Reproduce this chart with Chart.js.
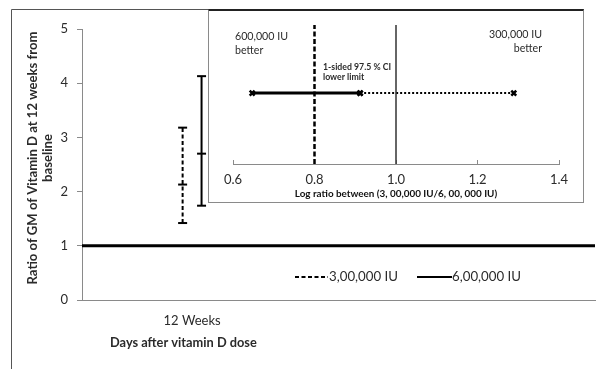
<!DOCTYPE html>
<html>
<head>
<meta charset="utf-8">
<script src="https://cdn.jsdelivr.net/npm/chart.js@4.4.1/dist/chart.umd.min.js"></script>
<style>
  html, body { margin: 0; padding: 0; background: #fff; }
  #wrap { position: relative; width: 602px; height: 369px; }
  #main { position: absolute; left: 0; top: 0; }
  #insetBox { position: absolute; left: 208px; top: 9px; width: 376px; height: 194px;
    box-sizing: border-box; border: 1px solid #8a8a8a; border-top: 2px solid #222; background: #fff; }
  #inset { display: block; }
</style>
</head>
<body>
<div id="wrap">
  <canvas id="main" width="602" height="369"></canvas>
  <div id="insetBox"><canvas id="inset" width="374" height="191"></canvas></div>
</div>
<script>
// main chart data
const categories = ['12 Weeks']
const seriesNames = ['3,00,000 IU', '6,00,000 IU']
const gmRatio = [2.13, 2.70]
const ciLow = [1.42, 1.74]
const ciHigh = [3.18, 4.13]
const yTicks = [0, 1, 2, 3, 4, 5]
const refValue = 1

// inset data
const insetTicks = [0.6, 0.8, 1.0, 1.2, 1.4]
const nonInferiorityLimit = 0.8
const noEffect = 1.0
const logRatioLow = 0.647
const logRatioUpperOneSided = 0.912
const logRatioHigh = 1.289

const FONT = 'Lato, "Open Sans", sans-serif'
const TEXT = '#2b2b2b'

// x positions in the main chart: category 0, series drawn either side of it
const xMin = -0.5, xMax = 1.83, seriesShift = 0.043

// pick a font size so the text comes out at the wanted width
const fitFont = (ctx, text, width, weight) => {
  ctx.font = weight + ' 20px ' + FONT
  const size = 20 * width / ctx.measureText(text).width
  ctx.font = weight + ' ' + size.toFixed(2) + 'px ' + FONT
}

const errorBar = (i, dx, dash) => ({
  label: seriesNames[i],
  data: [
    { x: dx, y: ciLow[i] },
    { x: dx, y: gmRatio[i] },
    { x: dx, y: ciHigh[i] }
  ],
  borderColor: '#000',
  borderWidth: 2,
  borderDash: dash,
  pointStyle: 'line',
  pointRadius: 4.5,
  pointBorderWidth: 2,
  pointBorderColor: '#000',
  showLine: true,
  fill: false
})

const mainDecor = {
  id: 'mainDecor',
  beforeDraw(chart) {
    const ctx = chart.ctx
    ctx.save()
    ctx.strokeStyle = '#555'
    ctx.lineWidth = 1
    ctx.beginPath()
    ctx.moveTo(11.5, 369)
    ctx.lineTo(11.5, 9.5)
    ctx.lineTo(583, 9.5)
    ctx.stroke()
    ctx.restore()
  },
  afterDraw(chart) {
    const ctx = chart.ctx
    ctx.save()
    ctx.fillStyle = TEXT
    // y title
    ctx.translate(40.5, 158)
    ctx.rotate(-Math.PI / 2)
    fitFont(ctx, 'Ratio of GM of Vitamin D at 12 weeks from', 253, 'bold')
    ctx.textAlign = 'center'
    ctx.textBaseline = 'middle'
    ctx.fillText('Ratio of GM of Vitamin D at 12 weeks from', 0, -7.5)
    ctx.fillText('baseline', 0, 7.5)
    ctx.restore()

    ctx.save()
    ctx.fillStyle = TEXT
    ctx.textBaseline = 'middle'
    ctx.textAlign = 'left'
    fitFont(ctx, 'Days after vitamin D dose', 147, 'bold')
    ctx.fillText('Days after vitamin D dose', 110, 343)

    // legend
    ctx.strokeStyle = '#000'
    ctx.lineWidth = 2
    ctx.setLineDash([4, 2.5])
    ctx.beginPath(); ctx.moveTo(295, 277); ctx.lineTo(328, 277); ctx.stroke()
    ctx.setLineDash([])
    ctx.beginPath(); ctx.moveTo(417, 277); ctx.lineTo(452, 277); ctx.stroke()
    fitFont(ctx, seriesNames[0], 69, 'normal')
    ctx.fillText(seriesNames[0], 329, 277)
    ctx.fillText(seriesNames[1], 452, 277)
    ctx.restore()
  }
}

new Chart('main', {
  type: 'scatter',
  data: {
    datasets: [
      {
        label: 'ref',
        data: [{ x: xMin, y: refValue }, { x: xMax, y: refValue }],
        borderColor: '#000',
        borderWidth: 3,
        pointRadius: 0,
        showLine: true
      },
      errorBar(0, -seriesShift, [4, 2.5]),
      errorBar(1, seriesShift, [])
    ]
  },
  options: {
    responsive: false,
    animation: false,
    layout: { padding: { left: 0, top: 29, right: 7, bottom: 0 } },
    plugins: { legend: { display: false }, tooltip: { enabled: false } },
    scales: {
      x: {
        type: 'linear',
        min: xMin,
        max: xMax,
        afterBuildTicks: (s) => { s.ticks = categories.map((c, i) => ({ value: i })) },
        afterFit: (s) => { s.height = 69 },
        ticks: {
          callback: (v) => categories[v],
          padding: 13,
          color: TEXT,
          font: { family: FONT, size: 13 },
          maxRotation: 0
        },
        grid: { display: false, drawTicks: false },
        border: { display: true, color: '#8a8a8a', width: 1 }
      },
      y: {
        min: 0,
        max: 5,
        afterBuildTicks: (s) => { s.ticks = yTicks.map(v => ({ value: v })) },
        afterFit: (s) => { s.width = 82 },
        ticks: { padding: 9, color: TEXT, font: { family: FONT, size: 13 } },
        grid: { drawOnChartArea: false, drawTicks: true, tickLength: 5, color: '#8a8a8a' },
        border: { display: true, color: '#8a8a8a', width: 1 }
      }
    }
  },
  plugins: [mainDecor]
})

const insetDecor = {
  id: 'insetDecor',
  afterDraw(chart) {
    const ctx = chart.ctx
    ctx.save()
    ctx.fillStyle = TEXT
    ctx.textBaseline = 'middle'
    fitFont(ctx, '600,000 IU', 53, 'normal')
    ctx.textAlign = 'left'
    ctx.fillText('600,000 IU', 26, 26)
    ctx.fillText('better', 26, 40)
    ctx.textAlign = 'right'
    ctx.fillText('300,000 IU', 333, 24)
    ctx.fillText('better', 333, 38)
    ctx.textAlign = 'left'
    fitFont(ctx, '1-sided 97.5 % CI', 68, 'bold')
    ctx.fillText('1-sided 97.5 % CI', 114, 56)
    ctx.fillText('lower limit', 114, 66)
    ctx.restore()
  }
}

new Chart('inset', {
  type: 'scatter',
  data: {
    datasets: [
      {
        data: [{ x: nonInferiorityLimit, y: 0 }, { x: nonInferiorityLimit, y: 1 }],
        borderColor: '#000', borderWidth: 2.5, borderDash: [5, 2.5],
        pointRadius: 0, showLine: true
      },
      {
        data: [{ x: noEffect, y: 0 }, { x: noEffect, y: 1 }],
        borderColor: '#333', borderWidth: 1.5,
        pointRadius: 0, showLine: true
      },
      {
        data: [{ x: logRatioUpperOneSided, y: 0.51 }, { x: logRatioHigh, y: 0.51 }],
        borderColor: '#000', borderWidth: 2, borderDash: [2, 2],
        pointStyle: 'crossRot', pointRadius: 3.5, pointBorderWidth: 2.5, pointBorderColor: '#000',
        showLine: true
      },
      {
        data: [{ x: logRatioLow, y: 0.51 }, { x: logRatioUpperOneSided, y: 0.51 }],
        borderColor: '#000', borderWidth: 3,
        pointStyle: 'crossRot', pointRadius: 3.5, pointBorderWidth: 2.5, pointBorderColor: '#000',
        showLine: true
      }
    ]
  },
  options: {
    responsive: false,
    animation: false,
    layout: { padding: { left: 24, top: 14, right: 24, bottom: 0 } },
    plugins: { legend: { display: false }, tooltip: { enabled: false } },
    scales: {
      x: {
        type: 'linear',
        min: insetTicks[0],
        max: insetTicks[insetTicks.length - 1],
        afterBuildTicks: (s) => { s.ticks = insetTicks.map(v => ({ value: v })) },
        afterFit: (s) => { s.height = 38 },
        ticks: {
          callback: (v) => v.toFixed(1),
          padding: 12,
          color: TEXT,
          font: { family: FONT, size: 13 }
        },
        grid: { drawOnChartArea: false, drawTicks: true, tickLength: -4, color: '#8a8a8a' },
        border: { display: true, color: '#8a8a8a', width: 1 },
        title: {
          display: true,
          text: 'Log ratio between (3, 00,000 IU/6, 00, 000 IU)',
          color: '#111',
          font: { family: FONT, size: 9.9, weight: 'bold' },
          padding: { top: 0, bottom: 2.5 }
        }
      },
      y: { display: false, min: 0, max: 1 }
    }
  },
  plugins: [insetDecor]
})
</script>
</body>
</html>
